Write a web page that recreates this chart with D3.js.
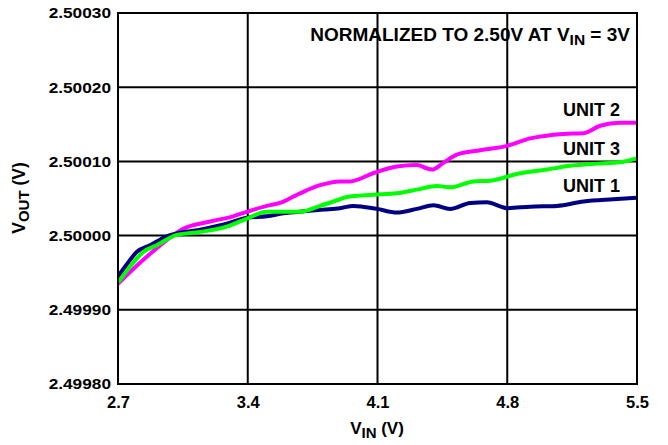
<!DOCTYPE html>
<html>
<head>
<meta charset="utf-8">
<script src="https://cdn.jsdelivr.net/npm/d3@7"></script>
<style>
  html, body { margin: 0; padding: 0; background: #fff; }
  svg { display: block; font-family: "Liberation Sans", Arial, Helvetica, sans-serif; font-weight: bold; }
</style>
</head>
<body>
<svg id="chart" width="668" height="445"></svg>
<script>
// ---- data (VOUT deviation from 2.50000 V, in microvolts) ----
const xTicks = [2.7, 3.4, 4.1, 4.8, 5.5];
const yTicks = [-20, -10, 0, 10, 20, 30]; // in units of 10 µV -> labels 2.49980 ... 2.50030

const unit1Vin = [2.700, 2.747, 2.801, 2.873, 2.963, 3.143, 3.287, 3.395, 3.503, 3.592, 3.718, 3.808, 3.898, 3.970, 4.096, 4.204, 4.312, 4.402, 4.492, 4.600, 4.690, 4.798, 4.924, 5.068, 5.212, 5.373, 5.500];
const unit1UV  = [-55, -39, -22, -13, -1, 8, 16, 24, 26, 30, 33, 35, 37, 40, 36, 31, 36, 41, 36, 44, 45, 37, 39, 40, 46, 49, 51];

const unit2Vin = [2.700, 2.835, 2.963, 3.050, 3.197, 3.321, 3.395, 3.503, 3.574, 3.682, 3.790, 3.898, 3.952, 4.076, 4.204, 4.312, 4.393, 4.456, 4.528, 4.654, 4.798, 4.924, 5.104, 5.212, 5.301, 5.409, 5.500];
const unit2UV  = [-65, -33, -6, 9, 19, 26, 32, 40, 44, 57, 68, 73, 73, 84, 93, 95, 89, 98, 109, 115, 121, 131, 137, 138, 148, 152, 152];

const unit3Vin = [2.705, 2.781, 2.837, 2.909, 3.017, 3.143, 3.287, 3.395, 3.503, 3.682, 3.790, 3.898, 3.934, 4.078, 4.204, 4.312, 4.420, 4.492, 4.618, 4.708, 4.852, 5.014, 5.139, 5.283, 5.409, 5.500];
const unit3UV  = [-62, -37, -22, -13, 1, 5, 12, 23, 32, 32, 40, 49, 52, 55, 57, 62, 67, 65, 73, 74, 83, 89, 94, 97, 99, 104];

const seriesNames = ["UNIT 2", "UNIT 1", "UNIT 3"];
const seriesColors = ["#ff00ff", "#000080", "#00ff00"];

// ---- layout ----
const svg = d3.select("#chart");
const L = 118, R = 637, T = 13, B = 384;

const x = d3.scaleLinear().domain([2.7, 5.5]).range([L, R]);
const y = d3.scaleLinear().domain([-200, 300]).range([B, T]);

// gridlines
const g = svg.append("g");
g.selectAll(".vg").data(xTicks.slice(1, -1)).join("line")
  .attr("x1", d => x(d)).attr("x2", d => x(d))
  .attr("y1", T).attr("y2", B)
  .attr("stroke", "#000").attr("stroke-width", 2);
g.selectAll(".hg").data(yTicks.slice(1, -1)).join("line")
  .attr("x1", L).attr("x2", R)
  .attr("y1", d => y(d * 10)).attr("y2", d => y(d * 10))
  .attr("stroke", "#000").attr("stroke-width", 2);

// series
const line = d3.line().x(d => x(d[0])).y(d => y(d[1])).curve(d3.curveMonotoneX);
const series = [
  d3.zip(unit2Vin, unit2UV),
  d3.zip(unit1Vin, unit1UV),
  d3.zip(unit3Vin, unit3UV)
];
svg.append("defs").append("clipPath").attr("id", "clip")
  .append("rect").attr("x", L).attr("y", T).attr("width", R - L).attr("height", B - T);
svg.append("g").attr("clip-path", "url(#clip)")
  .selectAll("path").data(series).join("path")
  .attr("d", line)
  .attr("fill", "none")
  .attr("stroke", (d, i) => seriesColors[i])
  .attr("stroke-width", 4)
  .attr("stroke-linejoin", "round")
  .attr("stroke-linecap", "round");

// frame
svg.append("rect").attr("x", L).attr("y", T).attr("width", R - L).attr("height", B - T)
  .attr("fill", "none").attr("stroke", "#000").attr("stroke-width", 2);

// axes (labels only, via d3 axis)
const yAxis = d3.axisLeft(y).tickValues(yTicks.map(d => d * 10))
  .tickFormat(d => (2.5 + d * 1e-6).toFixed(5)).tickSize(0).tickPadding(7);
const ya = svg.append("g").attr("transform", `translate(${L},0)`).call(yAxis);
ya.select(".domain").remove();
ya.selectAll("text").attr("font-size", 15).attr("font-weight", "bold")
  .attr("font-family", "Liberation Sans, Arial, sans-serif").attr("fill", "#000")
  .each(function() {
    const w = this.getComputedTextLength();
    d3.select(this).attr("textLength", w * 1.15).attr("lengthAdjust", "spacingAndGlyphs");
  });

const xAxis = d3.axisBottom(x).tickValues(xTicks).tickFormat(d3.format(".1f")).tickSize(0).tickPadding(12);
const xa = svg.append("g").attr("transform", `translate(0,${B})`).call(xAxis);
xa.select(".domain").remove();
xa.selectAll("text").attr("font-size", 16.5).attr("font-weight", "bold")
  .attr("font-family", "Liberation Sans, Arial, sans-serif").attr("fill", "#000");

// axis titles
const xt = svg.append("text").attr("x", 377).attr("y", 434).attr("text-anchor", "middle").attr("font-size", 17);
xt.append("tspan").text("V");
xt.append("tspan").text("IN").attr("font-size", 15).attr("dy", 4);
xt.append("tspan").text(" (V)").attr("dy", -4);

const yt = svg.append("text").attr("transform", "translate(25,198) rotate(-90)").attr("text-anchor", "middle").attr("font-size", 17.5);
yt.append("tspan").text("V");
yt.append("tspan").text("OUT").attr("font-size", 15).attr("dy", 4);
yt.append("tspan").text(" (V)").attr("dy", -4);

// annotation
const ann = svg.append("text").attr("x", 630).attr("y", 41).attr("text-anchor", "end").attr("font-size", 19);
ann.append("tspan").text("NORMALIZED TO 2.50V AT V");
ann.append("tspan").text("IN").attr("font-size", 15.5).attr("dy", 4);
ann.append("tspan").text(" = 3V").attr("dy", -4);

// series labels
const labelY = [116, 155, 192];
const labelText = ["UNIT 2", "UNIT 3", "UNIT 1"];
svg.selectAll(".ul").data(labelText).join("text")
  .attr("x", 620).attr("y", (d, i) => labelY[i]).attr("text-anchor", "end")
  .attr("font-size", 18).text(d => d);
</script>
</body>
</html>
